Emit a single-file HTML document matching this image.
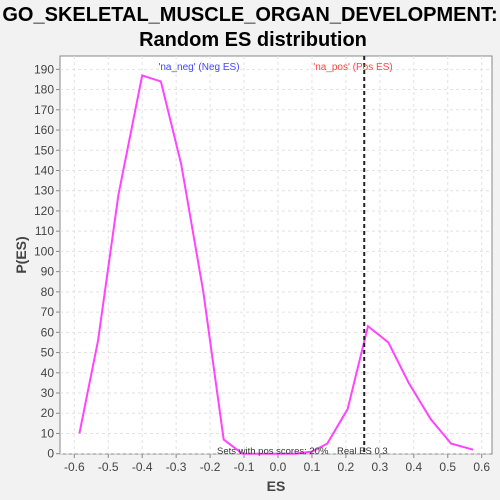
<!DOCTYPE html>
<html><head><meta charset="utf-8"><style>
body{margin:0;background:#f2f2f2;font-family:"Liberation Sans",sans-serif}
svg{display:block}
</style></head><body>
<svg id="c" width="500" height="500">
<text x="250" y="21" text-anchor="middle" font-size="20" font-weight="bold" fill="#000">GO_SKELETAL_MUSCLE_ORGAN_DEVELOPMENT:</text>
<text x="253" y="46" text-anchor="middle" font-size="20" font-weight="bold" fill="#000">Random ES distribution</text>
<rect x="60" y="56" width="432" height="398" fill="#fff" stroke="#888"/>
<g id="grid"></g><g id="axes"></g><g id="marks"></g>
<text x="276" y="491" text-anchor="middle" font-size="14" font-weight="bold" fill="#444">ES</text>
<text transform="translate(26,255) rotate(-90)" text-anchor="middle" font-size="14" font-weight="bold" fill="#444">P(ES)</text>
<text x="199" y="70" text-anchor="middle" font-size="10" fill="#4444ff">'na_neg' (Neg ES)</text>
<text x="353" y="70" text-anchor="middle" font-size="10" fill="#ff4444">'na_pos' (Pos ES)</text>
<text x="217" y="454" font-size="9.5" fill="#333">Sets with pos scores: 20%</text>
<text x="337" y="454" font-size="9.5" fill="#333">Real ES 0.3</text>
</svg>
<script>
const esX=[-0.585,-0.53,-0.47,-0.40,-0.345,-0.285,-0.22,-0.16,-0.105,-0.05,0.0,0.05,0.10,0.145,0.205,0.265,0.325,0.385,0.45,0.51,0.575];
const pES=[10,56,128,187,184,143,80,7,0,0,0,0,1,5,22,63,55,35,17,5,2];
const xTicks=[-0.6,-0.5,-0.4,-0.3,-0.2,-0.1,0,0.1,0.2,0.3,0.4,0.5,0.6];
const yTicks=[0,10,20,30,40,50,60,70,80,90,100,110,120,130,140,150,160,170,180,190];
const realES=[0.254];
const sx=v=>278+v*339.5, sy=v=>453.7-v*2.023;
const NS="http://www.w3.org/2000/svg";
function mk(t,a,p){const e=document.createElementNS(NS,t);for(const k in a)e.setAttribute(k,a[k]);p.appendChild(e);return e;}
const g=document.getElementById('grid'),ax=document.getElementById('axes'),m=document.getElementById('marks');
xTicks.forEach(v=>{const x=sx(v);
const l=mk('line',{x1:x,x2:x,y1:56,y2:454,stroke:'#e2e2e2','stroke-dasharray':'3,3'},g);


const tk=mk('line',{x1:x,x2:x,y1:454,y2:458,stroke:'#888'},ax);


const t=mk('text',{x:x,y:471,'text-anchor':'middle','font-size':12,fill:'#444'},ax);t.textContent=(v===0?'0.0':v.toFixed(1));

});
yTicks.forEach(v=>{const y=sy(v);
const l=mk('line',{x1:60,x2:492,y1:y,y2:y,stroke:'#e2e2e2','stroke-dasharray':'3,3'},g);


const tk=mk('line',{x1:56,x2:60,y1:y,y2:y,stroke:'#888'},ax);


const t=mk('text',{x:54,y:y+4,'text-anchor':'end','font-size':12,fill:'#444'},ax);t.textContent=v;

});
const pl=mk('polyline',{points:esX.map((v,i)=>sx(v)+','+sy(pES[i])).join(' '),fill:'none',stroke:'#ff44ff','stroke-width':2},m);


realES.forEach(v=>{const l=mk('line',{x1:sx(v),x2:sx(v),y1:56,y2:454,stroke:'#222','stroke-width':2,'stroke-dasharray':'4,3'},m);

});
</script>
</body></html>
